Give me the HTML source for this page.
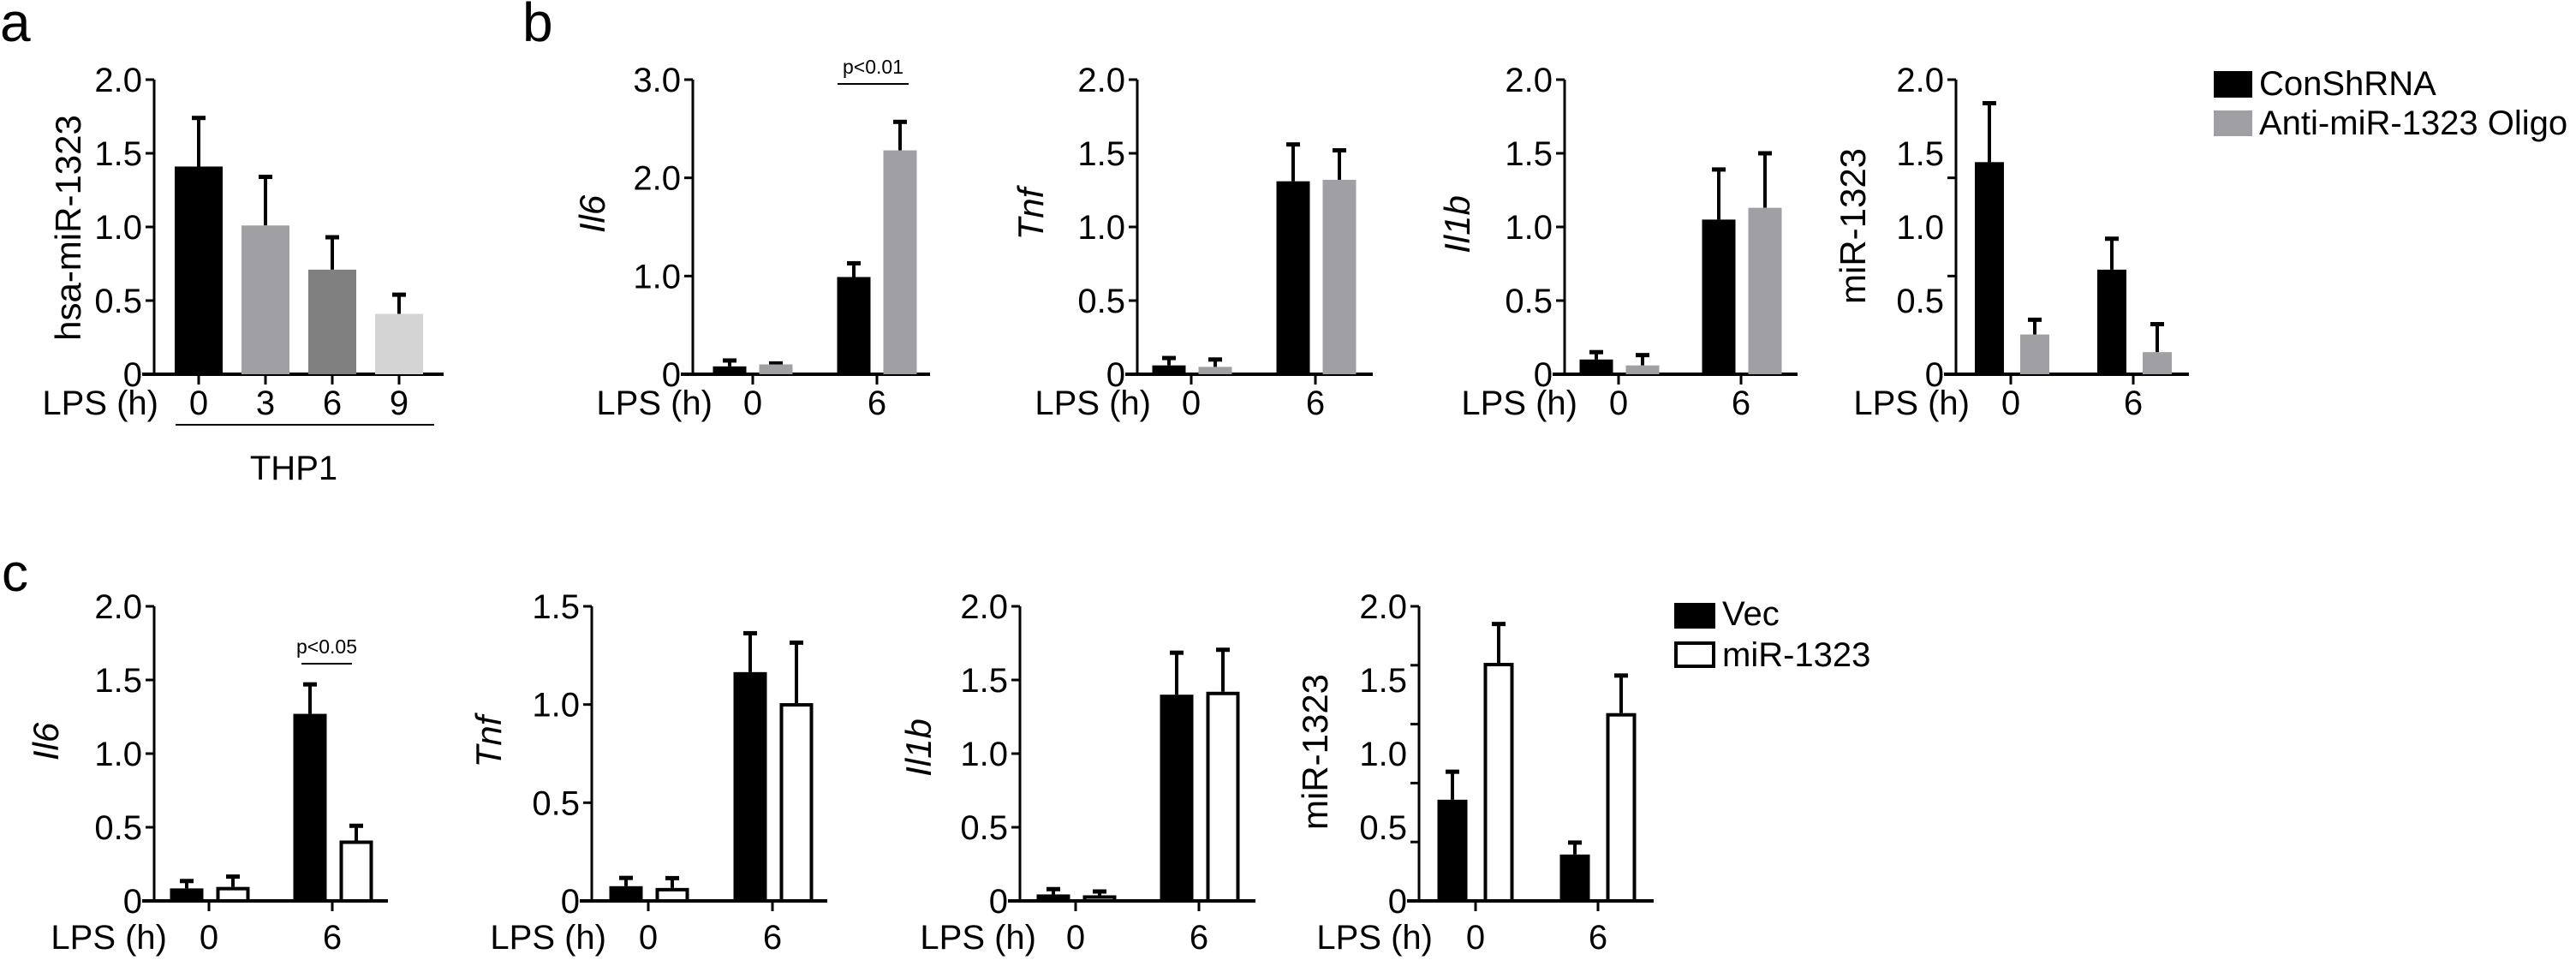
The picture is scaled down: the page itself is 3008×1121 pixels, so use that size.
<!DOCTYPE html>
<html><head><meta charset="utf-8"><style>
html,body{margin:0;padding:0;background:#fff;}
svg{display:block;font-family:"Liberation Sans",Arial,sans-serif;}
</style></head><body>
<svg id="fig" xmlns="http://www.w3.org/2000/svg" width="3008" height="1121" viewBox="0 0 3008 1121">
<rect x="0" y="0" width="3008" height="1121" fill="#fff"/>
<text x="0" y="48" font-size="64">a</text>
<text x="610" y="48" font-size="64">b</text>
<text x="2" y="690" font-size="62">c</text>
<g>
<rect x="2585" y="83" width="45" height="31" fill="#000"/>
<text x="2638" y="111" font-size="40">ConShRNA</text>
<rect x="2585" y="129" width="45" height="30" fill="#a0a0a4"/>
<text x="2638" y="157" font-size="40">Anti-miR-1323 Oligo</text>
</g>
<g>
<rect x="1955" y="704" width="48" height="30" fill="#000"/>
<text x="2011" y="730" font-size="40">Vec</text>
<rect x="1957" y="751" width="44" height="27" fill="#fff" stroke="#000" stroke-width="4"/>
<text x="2011" y="778" font-size="40">miR-1323</text>
</g>
</svg>
<script>
// ---- data ----
const aCategories = ['0','3','6','9'];
const aValues = [1.41, 1.01, 0.71, 0.41];
const aErrors = [0.33, 0.33, 0.22, 0.13];
const groupCategories = ['0','6'];
const bIl6Con = [0.08, 0.99];   const bIl6ConErr = [0.06, 0.14];
const bIl6Anti = [0.10, 2.28];  const bIl6AntiErr = [0.01, 0.29];
const bTnfCon = [0.06, 1.31];   const bTnfConErr = [0.05, 0.25];
const bTnfAnti = [0.05, 1.32];  const bTnfAntiErr = [0.05, 0.20];
const bIl1bCon = [0.10, 1.05];  const bIl1bConErr = [0.05, 0.34];
const bIl1bAnti = [0.06, 1.13]; const bIl1bAntiErr = [0.07, 0.37];
const bMirCon = [1.44, 0.71];   const bMirConErr = [0.40, 0.21];
const bMirAnti = [0.27, 0.15];  const bMirAntiErr = [0.10, 0.19];
const cIl6Vec = [0.085, 1.27];  const cIl6VecErr = [0.05, 0.20];
const cIl6Mir = [0.095, 0.41];  const cIl6MirErr = [0.07, 0.10];
const cTnfVec = [0.075, 1.165]; const cTnfVecErr = [0.042, 0.198];
const cTnfMir = [0.066, 1.007]; const cTnfMirErr = [0.05, 0.308];
const cIl1bVec = [0.044, 1.40]; const cIl1bVecErr = [0.036, 0.285];
const cIl1bMir = [0.038, 1.42]; const cIl1bMirErr = [0.026, 0.285];
const cMirVec = [0.687, 0.315]; const cMirVecErr = [0.19, 0.081];
const cMirMir = [1.616, 1.275]; const cMirMirErr = [0.264, 0.255];
const ticks2 = ['0','0.5','1.0','1.5','2.0'];
const ticks3 = ['0','1.0','2.0','3.0'];
const ticks15 = ['0','0.5','1.0','1.5'];

const NS = 'http://www.w3.org/2000/svg';
const svg = document.getElementById('fig');
function mk(tag, attrs, parent){ const e=document.createElementNS(NS,tag); for(const k in attrs) e.setAttribute(k,attrs[k]); (parent||svg).appendChild(e); return e; }
function txt(s, attrs, parent){ const e=mk('text',attrs,parent); e.textContent=s; return e; }

function drawPanel(p){
  const g = mk('g',{});
  
  
  const y = v => p.yBot - (v / p.max) * (p.yBot - p.yTop);
  // axes
  const ya = mk('line',{x1:p.ax,y1:p.yTop,x2:p.ax,y2:p.yBot,stroke:'#000','stroke-width':3},g);
  
  
  const xa = mk('line',{x1:p.ax-14,y1:p.yBot,x2:p.xEnd,y2:p.yBot,stroke:'#000','stroke-width':4},g);
  
  
  (p.tickMarks || p.ticks.map(Number)).forEach(v=>{
    mk('line',{x1:p.ax-10,y1:y(v),x2:p.ax,y2:y(v),stroke:'#000','stroke-width':3},g);
  });
  p.ticks.forEach(t=>{
    const tl = txt(t,{x:p.ax-14,y:y(Number(t))+14,'font-size':40,'text-anchor':'end'},g);
    
    
  });
  // y title
  const yt = txt(p.ytitle,{x:0,y:0,'font-size':42,'text-anchor':'middle','font-style':p.italic?'italic':'normal',transform:`translate(${p.tx},${p.ty}) rotate(-90)`},g);
  
  
  // LPS label
  const lp = txt('LPS (h)',{x:p.lpsX,y:p.catY,'font-size':40,'text-anchor':'end'},g);
  
  
  // categories
  p.cats.forEach((c,i)=>{
    const cx = p.catX[i];
    mk('line',{x1:cx,y1:p.yBot,x2:cx,y2:p.yBot+12,stroke:'#000','stroke-width':3},g);
    const cl = txt(c,{x:cx,y:p.catY,'font-size':40,'text-anchor':'middle'},g);
    
    
  });
  // series
  p.series.forEach(s=>{
    s.vals.forEach((v,i)=>{
      const cx = p.catX[i] + s.off;
      const top = y(v), bw = p.bw;
      const ey = y(v + s.err[i]);
      const el = mk('line',{x1:cx,y1:top,x2:cx,y2:ey,stroke:'#000','stroke-width':4},g);
      
      
      const cap = mk('line',{x1:cx-8,y1:ey,x2:cx+8,y2:ey,stroke:'#000','stroke-width':5},g);
      
      
      let r;
      if(s.outline){
        r = mk('rect',{x:cx-bw/2+2,y:top+2,width:bw-4,height:Math.max(0,p.yBot-top-2),fill:'#fff',stroke:'#000','stroke-width':4},g);
      } else {
        r = mk('rect',{x:cx-bw/2,y:top,width:bw,height:p.yBot-top,fill:s.color[i]||s.color[0]},g);
      }
      
      
    });
  });
  if(p.sig){
    mk('line',{x1:p.sig.x1,y1:p.sig.y,x2:p.sig.x2,y2:p.sig.y,stroke:'#000','stroke-width':2},g);
    const st = txt(p.sig.t,{x:(p.sig.x1+p.sig.x2)/2,y:p.sig.y-12,'font-size':23,'text-anchor':'middle'},g);
    
    
  }
}

const BLK=['#000'], GRY=['#a0a0a4'];
// panel a
drawPanel({name:'chart-a-hsa-mir-1323',ax:180,yTop:93,yBot:437,xEnd:518,max:2,ticks:ticks2,ytitle:'hsa-miR-1323',tx:94,ty:266,
  lpsX:185,catY:484,cats:aCategories,catX:[232,310,388,466],bw:56,
  series:[{key:'thp1',vals:aValues,err:aErrors,off:0,color:['#000','#a0a0a4','#808080','#d4d4d4']}]});
mk('line',{x1:205,y1:496,x2:507,y2:496,stroke:'#000','stroke-width':2});
txt('THP1',{x:343,y:560,'font-size':40,'text-anchor':'middle'});

const topRow = {yTop:93,yBot:437,catY:484,bw:39};
drawPanel(Object.assign({},topRow,{name:'chart-b-il6',ax:809,xEnd:1086,max:3,ticks:ticks3,ytitle:'Il6',italic:true,tx:706,ty:250,lpsX:832,
  cats:groupCategories,catX:[879,1024],series:[
  {key:'conshrna',vals:bIl6Con,err:bIl6ConErr,off:-27,color:BLK},
  {key:'anti-mir',vals:bIl6Anti,err:bIl6AntiErr,off:27,color:GRY}],
  sig:{x1:978,x2:1061,y:98,t:'p<0.01'}}));
drawPanel(Object.assign({},topRow,{name:'chart-b-tnf',ax:1328,xEnd:1603,max:2,ticks:ticks2,ytitle:'Tnf',italic:true,tx:1218,ty:250,lpsX:1344,
  cats:groupCategories,catX:[1391,1536],series:[
  {key:'conshrna',vals:bTnfCon,err:bTnfConErr,off:-26,color:BLK},
  {key:'anti-mir',vals:bTnfAnti,err:bTnfAntiErr,off:28,color:GRY}]}));
drawPanel(Object.assign({},topRow,{name:'chart-b-il1b',ax:1827,xEnd:2099,max:2,ticks:ticks2,ytitle:'Il1b',italic:true,tx:1716,ty:262,lpsX:1842,
  cats:groupCategories,catX:[1890,2033],series:[
  {key:'conshrna',vals:bIl1bCon,err:bIl1bConErr,off:-26,color:BLK},
  {key:'anti-mir',vals:bIl1bAnti,err:bIl1bAntiErr,off:28,color:GRY}]}));
drawPanel(Object.assign({},topRow,{name:'chart-b-mir-1323',ax:2284,xEnd:2556,max:2,ticks:ticks2,tickMarks:[0,2/3,4/3,2],ytitle:'miR-1323',tx:2178,ty:264,lpsX:2300,bw:34,
  cats:groupCategories,catX:[2348,2491],series:[
  {key:'conshrna',vals:bMirCon,err:bMirConErr,off:-25,color:BLK},
  {key:'anti-mir',vals:bMirAnti,err:bMirAntiErr,off:28,color:GRY}]}));

const botRow = {yTop:708,yBot:1052,catY:1108,bw:39};
drawPanel(Object.assign({},botRow,{name:'chart-c-il6',ax:180,xEnd:453,max:2,ticks:ticks2,ytitle:'Il6',italic:true,tx:68,ty:866,lpsX:195,
  cats:groupCategories,catX:[244,388],series:[
  {key:'vec',vals:cIl6Vec,err:cIl6VecErr,off:-26,color:BLK},
  {key:'mir-1323',vals:cIl6Mir,err:cIl6MirErr,off:28,outline:true}],
  sig:{x1:352,x2:411,y:775,t:'p<0.05'}}));
drawPanel(Object.assign({},botRow,{name:'chart-c-tnf',ax:691,xEnd:966,max:1.5,ticks:ticks15,ytitle:'Tnf',italic:true,tx:585,ty:866,lpsX:708,
  cats:groupCategories,catX:[757,902],series:[
  {key:'vec',vals:cTnfVec,err:cTnfVecErr,off:-26,color:BLK},
  {key:'mir-1323',vals:cTnfMir,err:cTnfMirErr,off:28,outline:true}]}));
drawPanel(Object.assign({},botRow,{name:'chart-c-il1b',ax:1191,xEnd:1466,max:2,ticks:ticks2,ytitle:'Il1b',italic:true,tx:1087,ty:873,lpsX:1210,
  cats:groupCategories,catX:[1256,1400],series:[
  {key:'vec',vals:cIl1bVec,err:cIl1bVecErr,off:-26,color:BLK},
  {key:'mir-1323',vals:cIl1bMir,err:cIl1bMirErr,off:28,outline:true}]}));
drawPanel(Object.assign({},botRow,{name:'chart-c-mir-1323',ax:1657,xEnd:1931,max:2,ticks:ticks2,tickMarks:[0,0.4,0.8,1.2,1.6,2.0],ytitle:'miR-1323',tx:1550,ty:878,lpsX:1673,bw:35,
  cats:groupCategories,catX:[1723,1866],series:[
  {key:'vec',vals:cMirVec,err:cMirVecErr,off:-27,color:BLK},
  {key:'mir-1323',vals:cMirMir,err:cMirMirErr,off:27,outline:true}]}));
</script>
</body></html>
